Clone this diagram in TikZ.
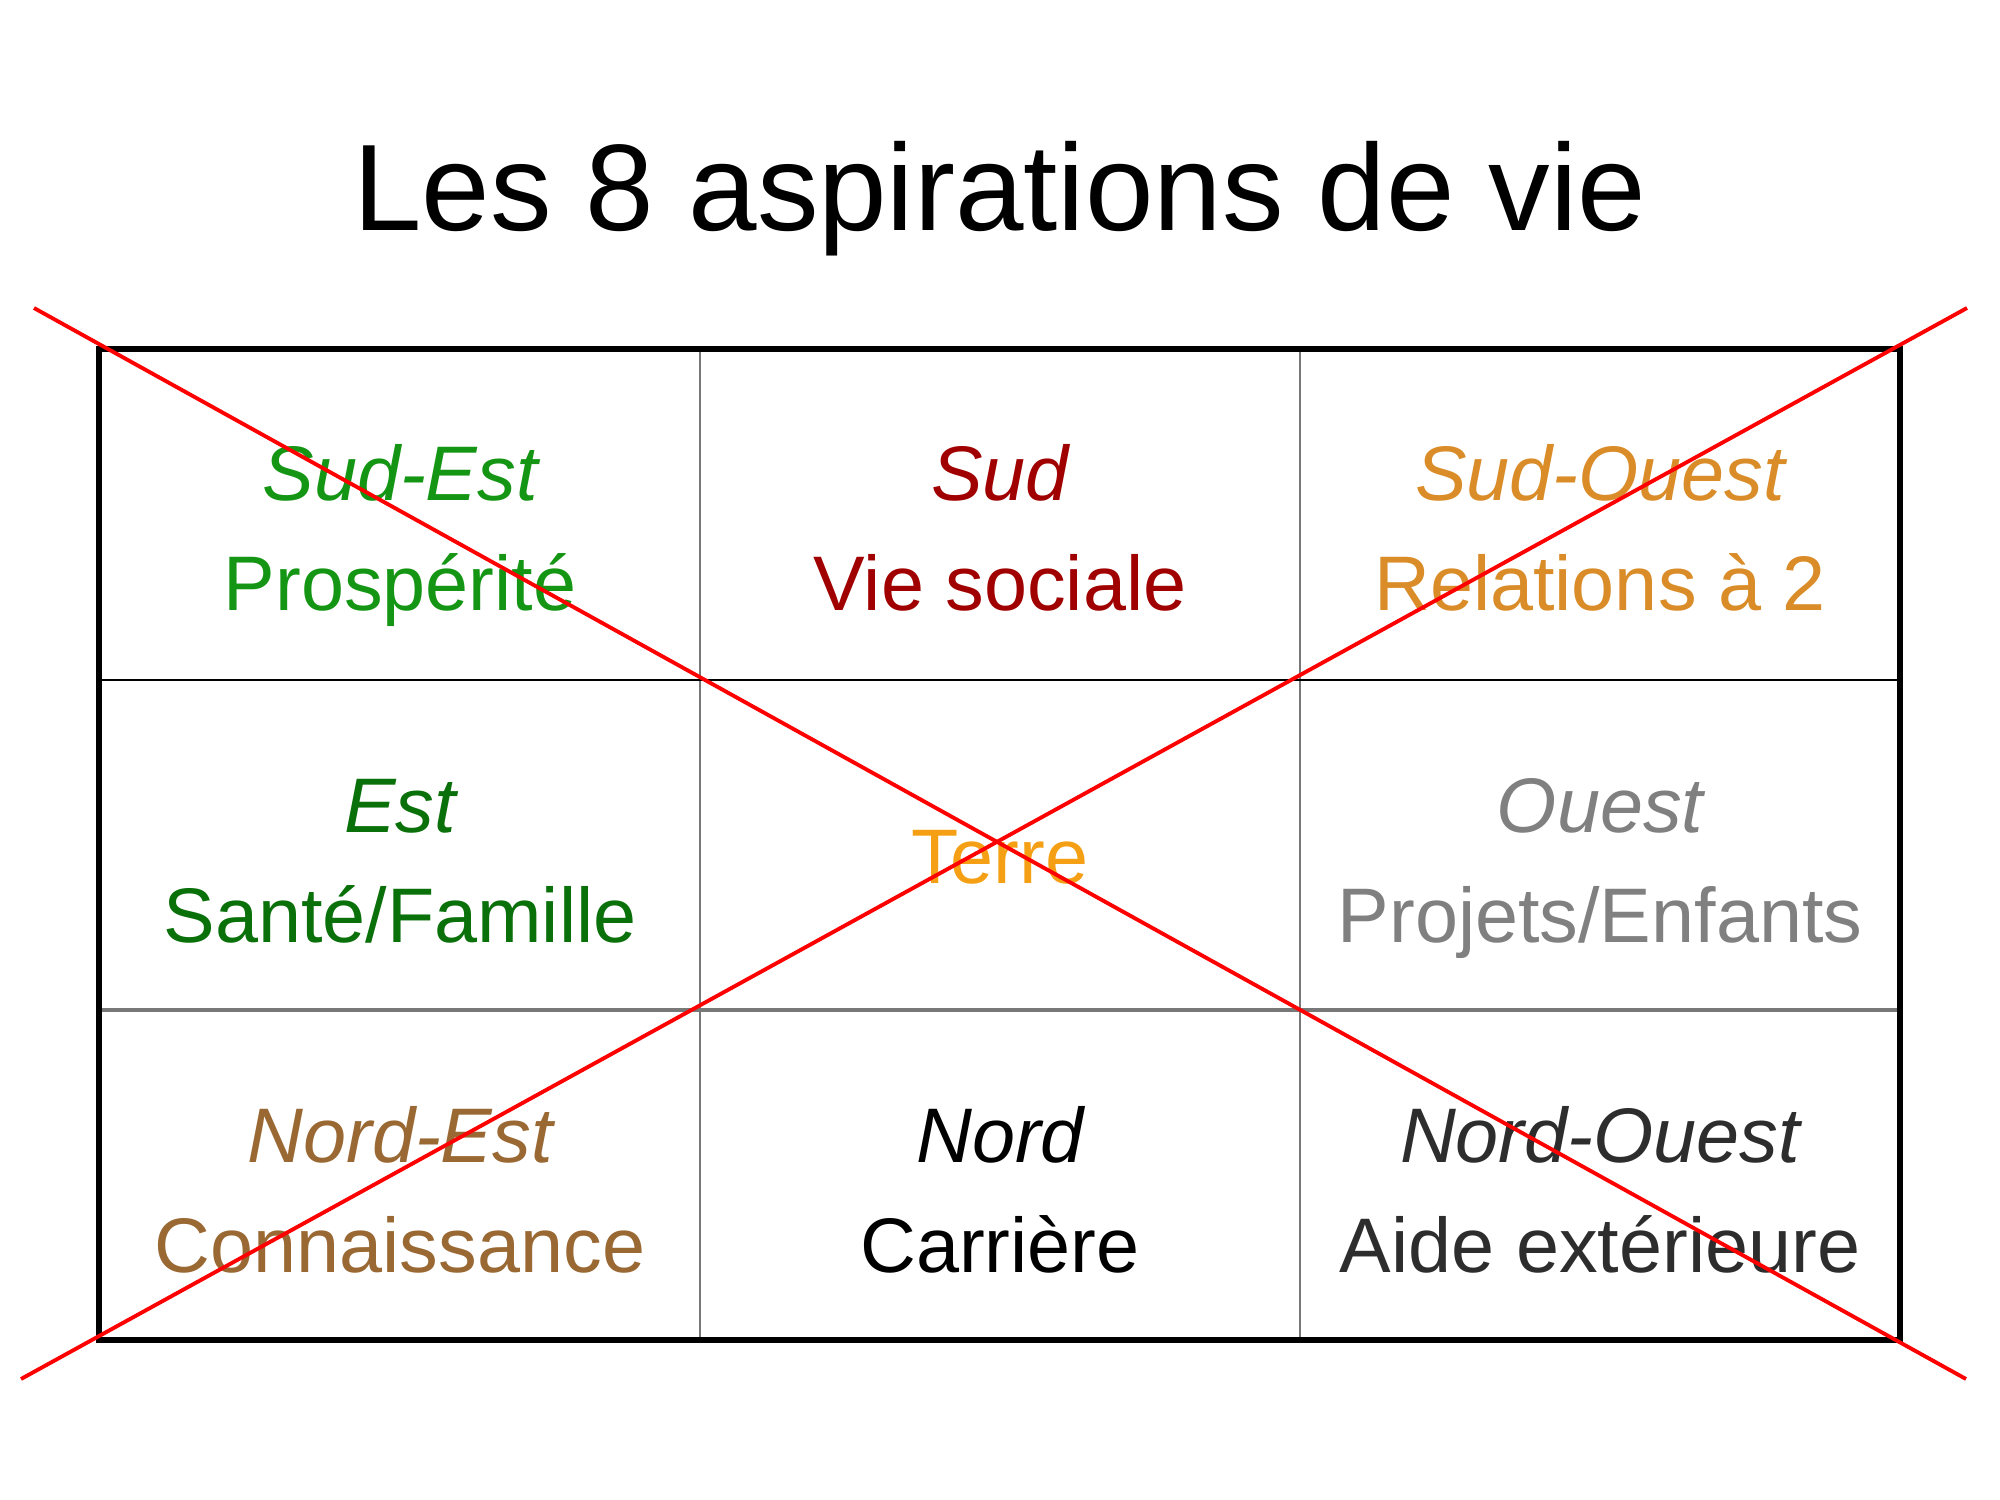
\documentclass[tikz,border=0pt]{standalone}
\usepackage{fontspec}
\setmainfont{Liberation Sans}
\definecolor{cSE}{RGB}{20,150,20}
\definecolor{cS}{RGB}{160,0,0}
\definecolor{cSO}{RGB}{218,140,40}
\definecolor{cE}{RGB}{10,112,10}
\definecolor{cT}{RGB}{245,160,20}
\definecolor{cO}{RGB}{128,128,128}
\definecolor{cNE}{RGB}{153,104,51}
\definecolor{cN}{RGB}{0,0,0}
\definecolor{cNO}{RGB}{45,45,45}
\definecolor{gline}{RGB}{120,120,120}
\begin{document}
\begin{tikzpicture}[x=0.01cm,y=-0.01cm,
  dir/.style={anchor=base,font=\fontsize{22}{26}\selectfont\itshape},
  asp/.style={anchor=base,font=\fontsize{22}{26}\selectfont},
  ttl/.style={anchor=base,font=\fontsize{35}{40}\selectfont},
  cross/.style={draw=red,line width=1.1pt}]
\useasboundingbox (0,0) rectangle (2000,1500);
\fill[white] (0,0) rectangle (2000,1500);
% title
\node[ttl] (title) at (1000,230) {Les 8 aspirations de vie};
% table grid
\draw[gline,line width=0.7pt] (700,349) -- (700,1340);
\draw[gline,line width=0.7pt] (1300,349) -- (1300,1340);
\draw[black,line width=0.7pt] (99,680) -- (1900,680);
\draw[gline,line width=0.9pt] (99,1010) -- (1900,1010);
\draw[black,line width=1.6pt] (99,349) rectangle (1900,1340);
% cells
\node[dir,text=cSE] (se1) at (400,500) {Sud-Est};
\node[asp,text=cSE] (se2) at (400,610) {Prospérité};
\node[dir,text=cS] (s1) at (1000,500) {Sud};
\node[asp,text=cS] (s2) at (1000,610) {Vie sociale};
\node[dir,text=cSO] (so1) at (1600,500) {Sud-Ouest};
\node[asp,text=cSO] (so2) at (1600,610) {Relations à 2};
\node[dir,text=cE] (e1) at (400,832) {Est};
\node[asp,text=cE] (e2) at (400,942) {Santé/Famille};
\node[asp,text=cT] (t) at (1000,883) {Terre};
\node[dir,text=cO] (o1) at (1600,832) {Ouest};
\node[asp,text=cO] (o2) at (1600,942) {Projets/Enfants};
\node[dir,text=cNE] (ne1) at (400,1162) {Nord-Est};
\node[asp,text=cNE] (ne2) at (400,1272) {Connaissance};
\node[dir,text=cN] (n1) at (1000,1162) {Nord};
\node[asp,text=cN] (n2) at (1000,1272) {Carrière};
\node[dir,text=cNO] (no1) at (1600,1162) {Nord-Ouest};
\node[asp,text=cNO] (no2) at (1600,1272) {Aide extérieure};
% cross
\coordinate (tl) at (34,308);
\coordinate (br) at (1966,1379);
\coordinate (tr) at (1967,308);
\coordinate (bl) at (21,1379);
\draw[cross] (tl) -- (br);
\draw[cross] (tr) -- (bl);
\end{tikzpicture}
\end{document}
